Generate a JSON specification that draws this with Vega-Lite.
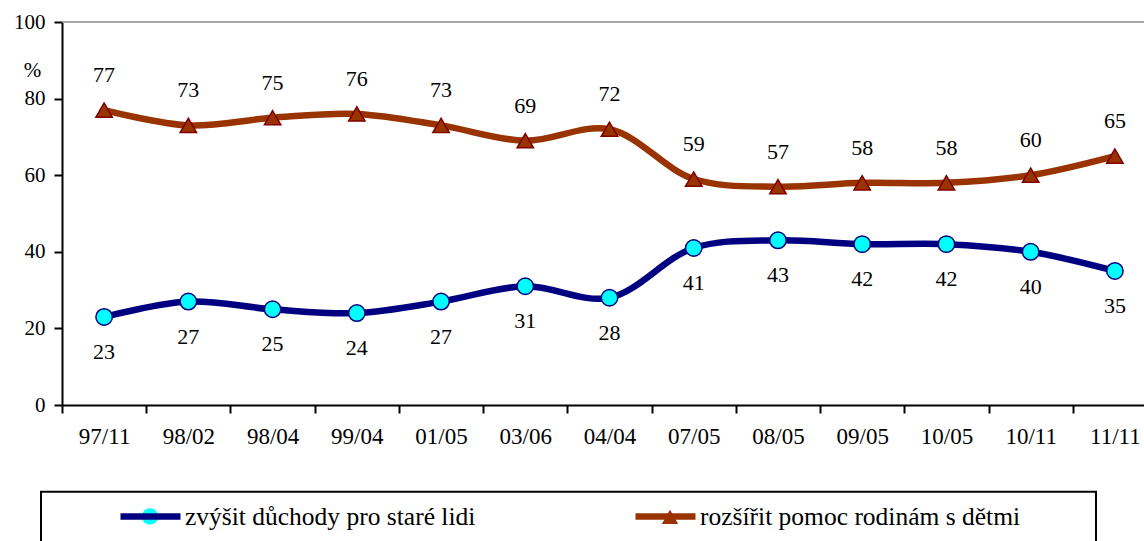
{
  "$schema": "https://vega.github.io/schema/vega-lite/v6.json",
  "width": 1082,
  "height": 383,
  "autosize": {"type": "none"},
  "padding": {"left": 62, "top": 22, "right": 0, "bottom": 136},
  "background": "white",
  "config": {"font": "Liberation Serif", "view": {"stroke": null}},
  "data": {
    "values": [
      {"t": "97/11", "s": "zvýšit důchody pro staré lidi", "v": 23},
      {"t": "98/02", "s": "zvýšit důchody pro staré lidi", "v": 27},
      {"t": "98/04", "s": "zvýšit důchody pro staré lidi", "v": 25},
      {"t": "99/04", "s": "zvýšit důchody pro staré lidi", "v": 24},
      {"t": "01/05", "s": "zvýšit důchody pro staré lidi", "v": 27},
      {"t": "03/06", "s": "zvýšit důchody pro staré lidi", "v": 31},
      {"t": "04/04", "s": "zvýšit důchody pro staré lidi", "v": 28},
      {"t": "07/05", "s": "zvýšit důchody pro staré lidi", "v": 41},
      {"t": "08/05", "s": "zvýšit důchody pro staré lidi", "v": 43},
      {"t": "09/05", "s": "zvýšit důchody pro staré lidi", "v": 42},
      {"t": "10/05", "s": "zvýšit důchody pro staré lidi", "v": 42},
      {"t": "10/11", "s": "zvýšit důchody pro staré lidi", "v": 40},
      {"t": "11/11", "s": "zvýšit důchody pro staré lidi", "v": 35},
      {"t": "97/11", "s": "rozšířit pomoc rodinám s dětmi", "v": 77},
      {"t": "98/02", "s": "rozšířit pomoc rodinám s dětmi", "v": 73},
      {"t": "98/04", "s": "rozšířit pomoc rodinám s dětmi", "v": 75},
      {"t": "99/04", "s": "rozšířit pomoc rodinám s dětmi", "v": 76},
      {"t": "01/05", "s": "rozšířit pomoc rodinám s dětmi", "v": 73},
      {"t": "03/06", "s": "rozšířit pomoc rodinám s dětmi", "v": 69},
      {"t": "04/04", "s": "rozšířit pomoc rodinám s dětmi", "v": 72},
      {"t": "07/05", "s": "rozšířit pomoc rodinám s dětmi", "v": 59},
      {"t": "08/05", "s": "rozšířit pomoc rodinám s dětmi", "v": 57},
      {"t": "09/05", "s": "rozšířit pomoc rodinám s dětmi", "v": 58},
      {"t": "10/05", "s": "rozšířit pomoc rodinám s dětmi", "v": 58},
      {"t": "10/11", "s": "rozšířit pomoc rodinám s dětmi", "v": 60},
      {"t": "11/11", "s": "rozšířit pomoc rodinám s dětmi", "v": 65}
    ]
  },
  "layer": [
    {
      "data": {"values": [{"k": "top"}]},
      "mark": {"type": "rule", "stroke": "#8c8c8c", "strokeWidth": 1.5},
      "encoding": {
        "y": {"datum": 100, "type": "quantitative"},
        "strokeDash": {
          "datum": "frame",
          "type": "nominal",
          "scale": {"range": [[1, 0]]},
          "legend": {
            "orient": "none",
            "legendX": -22,
            "legendY": -43,
            "title": null,
            "padding": 0,
            "symbolType": "M-1,0.2V-0.03H1V0.2",
            "symbolSize": 1113025,
            "symbolStrokeColor": "black",
            "symbolStrokeWidth": 2,
            "symbolFillColor": "transparent",
            "labelExpr": "''",
            "labelOffset": 0
          }
        }
      }
    },
    {
      "mark": {"type": "line", "interpolate": "catmull-rom", "strokeWidth": 6.5, "strokeCap": "round", "strokeJoin": "round"},
      "encoding": {
        "x": {
          "field": "t",
          "type": "nominal",
          "sort": ["97/11", "98/02", "98/04", "99/04", "01/05", "03/06", "04/04", "07/05", "08/05", "09/05", "10/05", "10/11", "11/11"],
          "scale": {"type": "band", "paddingInner": 0, "paddingOuter": 0, "range": [0, 1095]},
          "axis": {
            "title": null,
            "tickBand": "extent",
            "grid": false,
            "labelAngle": 0,
            "labelFont": "Liberation Serif",
            "labelFontSize": 23,
            "labelColor": "black",
            "labelPadding": 12,
            "domainColor": "black",
            "domainWidth": 2,
            "tickColor": "black",
            "tickWidth": 2,
            "tickSize": 8
          }
        },
        "y": {
          "field": "v",
          "type": "quantitative",
          "scale": {"domain": [0, 100], "nice": false},
          "axis": {
            "values": [0, 20, 40, 60, 80, 100],
            "grid": false,
            "title": "%",
            "titleAngle": 0,
            "titleX": -30,
            "titleY": 48,
            "titleAlign": "center",
            "titleBaseline": "middle",
            "titleFont": "Liberation Serif",
            "titleFontSize": 21,
            "titleFontWeight": "normal",
            "titleColor": "black",
            "labelFont": "Liberation Serif",
            "labelFontSize": 21,
            "labelColor": "black",
            "labelPadding": 9,
            "domainColor": "black",
            "domainWidth": 2,
            "tickColor": "black",
            "tickWidth": 2,
            "tickSize": 8
          }
        },
        "stroke": {
          "field": "s",
          "type": "nominal",
          "sort": "descending",
          "scale": {"range": ["#000080", "#993300"]},
          "legend": {
            "orient": "none",
            "legendX": 55,
            "legendY": 461,
            "direction": "horizontal",
            "title": null,
            "padding": 0,
            "symbolType": "stroke",
            "symbolSize": 3600,
            "symbolStrokeWidth": 6.5,
            "labelFont": "Liberation Serif",
            "labelFontSize": 25.5,
            "labelColor": "black",
            "labelOffset": 1,
            "labelLimit": 0,
            "columnPadding": 146
          }
        }
      }
    },
    {
      "mark": {"type": "point", "filled": true, "size": 270, "strokeWidth": 1.5, "opacity": 1},
      "encoding": {
        "x": {"field": "t", "type": "nominal", "sort": ["97/11", "98/02", "98/04", "99/04", "01/05", "03/06", "04/04", "07/05", "08/05", "09/05", "10/05", "10/11", "11/11"]},
        "y": {"field": "v", "type": "quantitative"},
        "shape": {
          "field": "s",
          "type": "nominal",
          "scale": {"domain": ["zvýšit důchody pro staré lidi", "rozšířit pomoc rodinám s dětmi"], "range": ["circle", "triangle-up"]},
          "legend": {
            "orient": "none",
            "legendX": 79,
            "legendY": 485,
            "direction": "horizontal",
            "title": null,
            "padding": 0,
            "symbolSize": 270,
            "symbolStrokeWidth": 1.5,
            "labelExpr": "''",
            "labelOffset": 0,
            "columnPadding": 496,
            "encode": {
              "symbols": {
                "update": {
                  "fill": {"signal": "datum.value === 'zvýšit důchody pro staré lidi' ? '#00FFFF' : '#993300'"},
                  "stroke": {"signal": "datum.value === 'zvýšit důchody pro staré lidi' ? '#000080' : '#800000'"},
                  "opacity": {"value": 1}
                }
              }
            }
          }
        },
        "fill": {
          "field": "s",
          "type": "nominal",
          "scale": {"domain": ["zvýšit důchody pro staré lidi", "rozšířit pomoc rodinám s dětmi"], "range": ["#00FFFF", "#993300"]},
          "legend": null
        },
        "stroke": {
          "field": "s",
          "type": "nominal",
          "scale": {"domain": ["zvýšit důchody pro staré lidi", "rozšířit pomoc rodinám s dětmi"], "range": ["#000080", "#800000"]},
          "legend": null
        }
      }
    },
    {
      "transform": [{"filter": "datum.s === 'zvýšit důchody pro staré lidi'"}],
      "mark": {"type": "text", "dy": 35, "fontSize": 22, "font": "Liberation Serif", "color": "black", "baseline": "middle", "align": "center"},
      "encoding": {
        "x": {"field": "t", "type": "nominal", "sort": ["97/11", "98/02", "98/04", "99/04", "01/05", "03/06", "04/04", "07/05", "08/05", "09/05", "10/05", "10/11", "11/11"]},
        "y": {"field": "v", "type": "quantitative"},
        "text": {"field": "v", "type": "quantitative"}
      }
    },
    {
      "transform": [{"filter": "datum.s === 'rozšířit pomoc rodinám s dětmi'"}],
      "mark": {"type": "text", "dy": -35, "fontSize": 22, "font": "Liberation Serif", "color": "black", "baseline": "middle", "align": "center"},
      "encoding": {
        "x": {"field": "t", "type": "nominal", "sort": ["97/11", "98/02", "98/04", "99/04", "01/05", "03/06", "04/04", "07/05", "08/05", "09/05", "10/05", "10/11", "11/11"]},
        "y": {"field": "v", "type": "quantitative"},
        "text": {"field": "v", "type": "quantitative"}
      }
    }
  ],
  "resolve": {"scale": {"stroke": "independent"}}
}
